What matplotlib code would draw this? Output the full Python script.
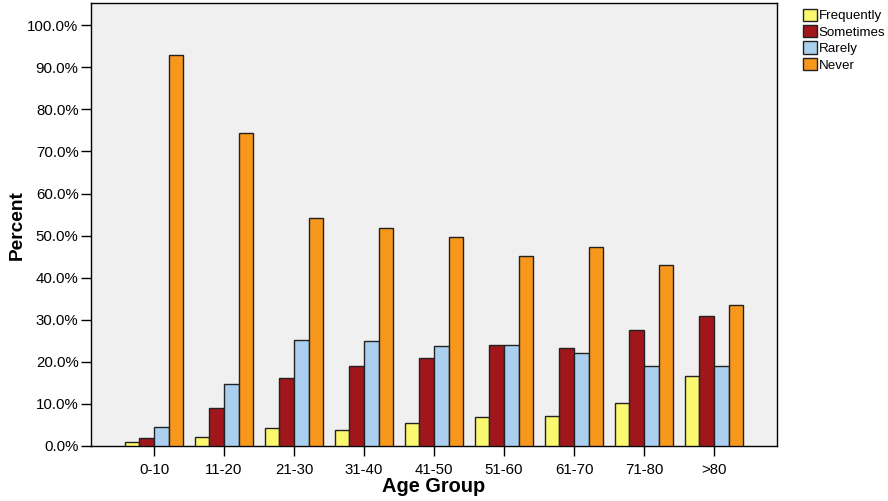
import matplotlib
matplotlib.use("Agg")
import matplotlib.pyplot as plt
import numpy as np
from matplotlib.ticker import FuncFormatter, MultipleLocator

plt.rcParams['font.family'] = ['Liberation Sans', 'DejaVu Sans']

categories = ["0-10", "11-20", "21-30", "31-40", "41-50", "51-60", "61-70", "71-80", ">80"]
frequently = [0.9, 2.1, 4.2, 3.9, 5.5, 7.0, 7.1, 10.3, 16.6]
sometimes = [1.9, 9.0, 16.2, 19.1, 20.8, 23.9, 23.4, 27.5, 30.8]
rarely = [4.4, 14.7, 25.1, 25.0, 23.8, 23.9, 22.0, 18.9, 18.9]
never = [93.0, 74.4, 54.1, 51.8, 49.7, 45.1, 47.4, 43.1, 33.6]
series_names = ["Frequently", "Sometimes", "Rarely", "Never"]
colors = ["#FBF870", "#A0161A", "#ABCFEE", "#F7981C"]

fig = plt.figure(figsize=(8.88, 5.01), dpi=100)
ax = fig.add_axes([0.1025, 0.1098, 0.7725, 0.8836])
ax.set_facecolor("#F0F0F0")

x = np.arange(len(categories))
w = 0.21
series = [frequently, sometimes, rarely, never]
for i, (vals, name, c) in enumerate(zip(series, series_names, colors)):
    ax.bar(x + (i - 1.5) * w, vals, width=w, color=c, edgecolor="#222222",
           linewidth=1.0, label=name, zorder=3)

ax.set_xlim(-0.9, 8.9)
ax.set_ylim(0, 105.2)
ax.yaxis.set_major_locator(MultipleLocator(10))
ax.yaxis.set_major_formatter(FuncFormatter(lambda v, p: f"{v:.1f}%"))
ax.set_xticks(x)
ax.set_xticklabels(categories)
ax.tick_params(axis='both', direction='out', length=7, width=1, labelsize=10.8, colors='black')
ax.tick_params(axis='x', pad=5)
ax.tick_params(axis='y', pad=2)
for s in ax.spines.values():
    s.set_color("black")
    s.set_linewidth(1)

ax.set_ylabel("Percent", fontsize=13.8, fontweight='bold', labelpad=1)
ax.set_xlabel("Age Group", fontsize=14.4, fontweight='bold', labelpad=0)

leg = ax.legend(loc='upper left', bbox_to_anchor=(1.038, 0.988), frameon=False,
                fontsize=9.6, handlelength=1.05, handleheight=1.05, handletextpad=0.1,
                labelspacing=0.2, borderaxespad=0, borderpad=0)

fig.savefig("out.png", dpi=100)
